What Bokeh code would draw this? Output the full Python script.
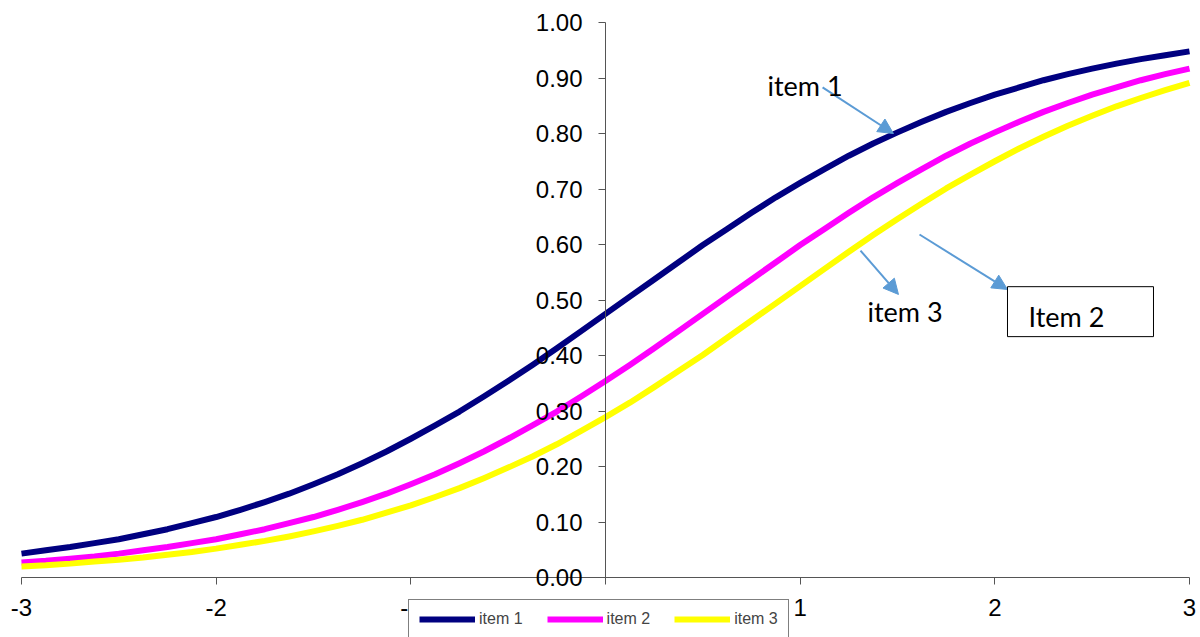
from bokeh.plotting import figure
from bokeh.models import (Range1d, FixedTicker, PrintfTickFormatter, Legend, LegendItem,
                          Arrow, NormalHead, Label, BoxAnnotation)
from bokeh.embed import file_html
from bokeh.resources import INLINE

# ability values (theta), step 0.125
theta = [-3.0 + 0.125 * i for i in range(49)]

item1 = [0.043, 0.049, 0.055, 0.062, 0.069, 0.078, 0.087, 0.098, 0.109, 0.122, 0.136, 0.151,
         0.168, 0.186, 0.206, 0.227, 0.250, 0.274, 0.299, 0.326, 0.354, 0.383, 0.413, 0.444,
         0.475, 0.506, 0.537, 0.568, 0.599, 0.628, 0.657, 0.685, 0.711, 0.736, 0.760, 0.782,
         0.802, 0.821, 0.839, 0.855, 0.870, 0.883, 0.896, 0.907, 0.917, 0.926, 0.934, 0.941, 0.948]
item2 = [0.027, 0.030, 0.034, 0.038, 0.043, 0.049, 0.055, 0.062, 0.069, 0.078, 0.087, 0.098,
         0.109, 0.122, 0.136, 0.151, 0.168, 0.186, 0.206, 0.227, 0.250, 0.274, 0.299, 0.326,
         0.354, 0.383, 0.413, 0.444, 0.475, 0.506, 0.537, 0.568, 0.599, 0.628, 0.657, 0.685,
         0.711, 0.736, 0.760, 0.782, 0.802, 0.821, 0.839, 0.855, 0.870, 0.883, 0.896, 0.907, 0.917]
item3 = [0.020, 0.022, 0.025, 0.029, 0.032, 0.036, 0.041, 0.046, 0.052, 0.059, 0.066, 0.074,
         0.083, 0.093, 0.104, 0.117, 0.130, 0.145, 0.161, 0.179, 0.198, 0.218, 0.240, 0.264,
         0.289, 0.315, 0.343, 0.372, 0.401, 0.432, 0.463, 0.494, 0.525, 0.556, 0.587, 0.617,
         0.646, 0.674, 0.701, 0.726, 0.750, 0.773, 0.794, 0.814, 0.832, 0.849, 0.864, 0.878, 0.891]

series_names = ["item 1", "item 2", "item 3"]
series_colors = ["#000080", "#FF00FF", "#FFFF00"]

x_ticks = [-3, -2, -1, 0, 1, 2, 3]
y_ticks = [0.0, 0.1, 0.2, 0.3, 0.4, 0.5, 0.6, 0.7, 0.8, 0.9, 1.0]

AXIS_COLOR = "#555555"
ARROW_COLOR = "#5B9BD5"

W, H = 1200, 637
# frame covers the whole canvas; ranges chosen so that -3..3 / 0..1 sit where the reference draws them
p = figure(frame_width=W, frame_height=H, output_backend="svg", toolbar_location=None,
           x_range=Range1d(-605 / 194.67, 595 / 194.67), y_range=Range1d(-60 / 555, 577 / 555),
           min_border=0)
p.outline_line_color = None
p.xgrid.visible = False
p.ygrid.visible = False
p.background_fill_color = "white"
p.border_fill_color = "white"

renderers = []
for ys, c in zip([item1, item2, item3], series_colors):
    r = p.line(theta, ys, line_color=c, line_width=6, line_join="round")
    renderers.append(r)

# axes
xa = p.xaxis[0]
xa.fixed_location = 0
xa.bounds = (-3, 3)
xa.ticker = FixedTicker(ticks=x_ticks)
xa.formatter = PrintfTickFormatter(format="%d")
xa.minor_tick_line_color = None
xa.major_tick_in = 0
xa.major_tick_out = 7
xa.major_label_standoff = 14
xa.major_label_text_font = "Liberation Sans"
xa.major_label_text_font_size = "24px"
xa.major_label_text_color = "black"
xa.axis_line_color = AXIS_COLOR
xa.major_tick_line_color = AXIS_COLOR

ya = p.yaxis[0]
ya.fixed_location = 0
ya.bounds = (0, 1)
ya.ticker = FixedTicker(ticks=y_ticks)
ya.formatter = PrintfTickFormatter(format="%.2f")
ya.minor_tick_line_color = None
ya.major_tick_in = 0
ya.major_tick_out = 7
ya.major_label_standoff = 16
ya.major_label_text_font = "Liberation Sans"
ya.major_label_text_font_size = "24px"
ya.major_label_text_color = "black"
ya.axis_line_color = AXIS_COLOR
ya.major_tick_line_color = AXIS_COLOR

# legend
legend = Legend(items=[LegendItem(label=n, renderers=[r]) for n, r in zip(series_names, renderers)],
                orientation="horizontal", location=(408, -2),
                label_text_font="Liberation Sans", label_text_font_size="16px",
                glyph_width=56, glyph_height=12, label_height=12, label_standoff=4,
                spacing=24, padding=10, margin=0,
                border_line_color="black", border_line_width=1,
                background_fill_color="white", background_fill_alpha=1)
p.add_layout(legend, "center")

# annotations
def head():
    return NormalHead(size=15, fill_color=ARROW_COLOR, line_color=ARROW_COLOR)

p.add_layout(Arrow(x_start=1.115, y_start=0.883, x_end=1.479, y_end=0.800, end=head(),
                   line_color=ARROW_COLOR, line_width=2))
p.add_layout(Arrow(x_start=1.310, y_start=0.589, x_end=1.505, y_end=0.510, end=head(),
                   line_color=ARROW_COLOR, line_width=2))
p.add_layout(Arrow(x_start=1.613, y_start=0.618, x_end=2.065, y_end=0.519, end=head(),
                   line_color=ARROW_COLOR, line_width=2))

p.add_layout(BoxAnnotation(left=2.065, right=2.815, bottom=0.434, top=0.524,
                           fill_color="white", fill_alpha=1, line_color="black", line_width=1,
                           line_alpha=1))

for txt, x, y in [("item 1", 0.832, 0.886), ("item 3", 1.346, 0.479), ("Item 2", 2.173, 0.470)]:
    p.add_layout(Label(x=x, y=y, text=txt, text_font="Lato", text_font_size="27px",
                       text_color="black", text_baseline="middle", text_align="left"))

open("out.html", "w").write(file_html(p, INLINE))
